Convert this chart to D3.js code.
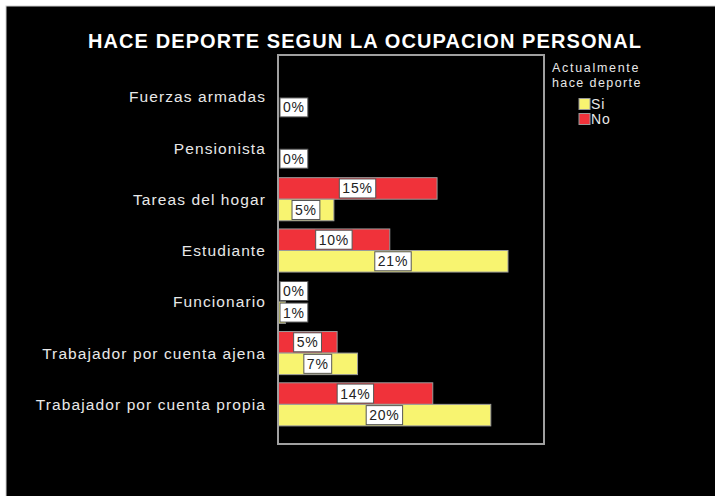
<!DOCTYPE html>
<html lang="es">
<head>
<meta charset="UTF-8">
<title>Hace deporte segun la ocupacion personal</title>
<script src="https://d3js.org/d3.v7.min.js"></script>
<style>
  body { margin: 0; background: #fff; }
  text { font-family: "Liberation Sans", Arial, sans-serif; }
</style>
</head>
<body>
<svg width="715" height="496"></svg>
<script>
// data (percent of each group)
const categories = ["Fuerzas armadas", "Pensionista", "Tareas del hogar", "Estudiante",
                    "Funcionario", "Trabajador por cuenta ajena", "Trabajador por cuenta propia"];
const seriesNames = ["No", "Si"];
const noValues = [null, null, 14.8, 10.4, 0, 5.5, 14.4];
const siValues = [0, 0, 5.2, 21.4, 0.7, 7.4, 19.8];
const labelNo = [null, null, "15%", "10%", "0%", "5%", "14%"];
const labelSi = ["0%", "0%", "5%", "21%", "1%", "7%", "20%"];

const colors = { Si: "#f8f470", No: "#f0323a" };

const svg = d3.select("svg");
svg.append("rect").attr("x", 6).attr("y", 6).attr("width", 720).attr("height", 500)
  .attr("fill", "#000").attr("stroke", "#d0d0d0").attr("stroke-width", 1);

svg.append("text")
  .attr("x", 365).attr("y", 48)
  .attr("text-anchor", "middle")
  .attr("fill", "#fff")
  .style("font-weight", "bold").style("font-size", "20px").style("letter-spacing", "1.1px")
  .text("HACE DEPORTE SEGUN LA OCUPACION PERSONAL");

let plot = { x0: 278, x1: 544, y0: 55, y1: 444 };

let x = d3.scaleLinear().domain([0, 24.75]).range([plot.x0, plot.x1]);
let y = d3.scaleBand().domain(categories).range([71, 430]);
let ySub = d3.scaleBand().domain(seriesNames).range([0, y.bandwidth()]).paddingOuter(0.19);

let rows = [];
categories.forEach(function (c, i) {
  rows.push({ cat: c, s: "No", v: noValues[i], lab: labelNo[i] });
  rows.push({ cat: c, s: "Si", v: siValues[i], lab: labelSi[i] });
});
rows = rows.filter(function (d) { return d.v !== null; });

// category labels
svg.append("g").selectAll("text").data(categories).join("text")
  .attr("x", 266)
  .attr("y", function (d) { return y(d) + y.bandwidth() / 2; })
  .attr("dy", "0.36em")
  .attr("text-anchor", "end")
  .attr("fill", "#e8e8e8")
  .style("font-size", "15.5px").style("letter-spacing", "1.1px")
  .text(function (d) { return d; });

// bars
svg.append("g").selectAll("rect").data(rows).join("rect")
  .attr("x", x(0))
  .attr("y", function (d) { return y(d.cat) + ySub(d.s); })
  .attr("width", function (d) { return x(d.v) - x(0); })
  .attr("height", ySub.bandwidth())
  .attr("fill", function (d) { return colors[d.s]; })
  .attr("stroke", "#9a9a9a").attr("stroke-width", 1);

// frame
svg.append("rect")
  .attr("x", plot.x0).attr("y", plot.y0)
  .attr("width", plot.x1 - plot.x0).attr("height", plot.y1 - plot.y0)
  .attr("fill", "none").attr("stroke", "#a0a0a0").attr("stroke-width", 2);

// value labels
let labels = svg.append("g").selectAll("g").data(rows).join("g");
labels.each(function (d) {
  let g = d3.select(this);
  let t = g.append("text")
    .attr("fill", "#222")
    .style("font-size", "14px").style("letter-spacing", "0.8px")
    .attr("dy", "0.36em")
    .attr("text-anchor", "middle")
    .text(d.lab);
  let w = t.node().getComputedTextLength() + 6;
  let cx = Math.max((x(0) + x(d.v)) / 2, x(0) + 2 + w / 2);
  let cy = y(d.cat) + ySub(d.s) + ySub.bandwidth() / 2;
  t.attr("x", cx).attr("y", cy);
  g.insert("rect", "text")
    .attr("x", cx - w / 2).attr("y", cy - 9.5)
    .attr("width", w).attr("height", 19)
    .attr("fill", "#fff").attr("stroke", "#555").attr("stroke-width", 1);
});

// legend
let legend = svg.append("g").attr("transform", "translate(552,72)");
legend.append("text").attr("fill", "#e8e8e8").style("font-size", "12.5px").style("letter-spacing", "1.7px")
  .text("Actualmente");
legend.append("text").attr("y", 14.5).attr("fill", "#e8e8e8").style("font-size", "12.5px").style("letter-spacing", "1.4px")
  .text("hace deporte");
let items = legend.selectAll("g.item").data(["Si", "No"]).join("g")
  .attr("class", "item")
  .attr("transform", function (d, i) { return "translate(27," + (26.5 + i * 15) + ")"; });
items.append("rect").attr("width", 11).attr("height", 11)
  .attr("fill", function (d) { return colors[d]; })
  .attr("stroke", "#9a9a9a").attr("stroke-width", 1);
items.append("text").attr("x", 12).attr("y", 10.5).attr("fill", "#e8e8e8")
  .style("font-size", "14px").style("letter-spacing", "1px")
  .text(function (d) { return d; });
</script>
</body>
</html>
